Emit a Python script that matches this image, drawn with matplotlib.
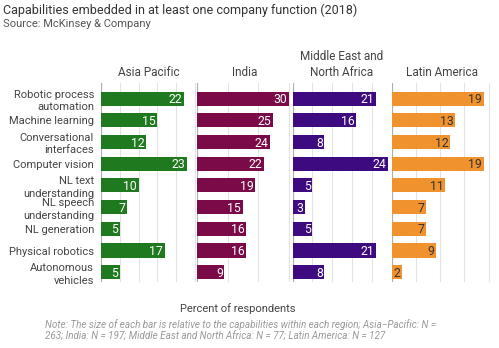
import matplotlib.pyplot as plt
import numpy as np

plt.rcParams["font.family"] = ["Roboto", "DejaVu Sans"]

CAPABILITIES = [
    "Robotic process\nautomation",
    "Machine learning",
    "Conversational\ninterfaces",
    "Computer vision",
    "NL text\nunderstanding",
    "NL speech\nunderstanding",
    "NL generation",
    "Physical robotics",
    "Autonomous\nvehicles",
]
REGIONS = ["Asia Pacific", "India", "Middle East and\nNorth Africa", "Latin America"]
ASIA_PACIFIC = [22, 15, 12, 23, 10, 7, 5, 17, 5]
INDIA = [30, 25, 24, 22, 19, 15, 16, 16, 9]
MIDDLE_EAST = [21, 16, 8, 24, 5, 3, 5, 21, 8]
LATIN_AMERICA = [19, 13, 12, 19, 11, 7, 7, 9, 2]

COLORS = ["#1f7a1f", "#7a0a48", "#3e0a80", "#f0922e"]
LABEL_COLORS = ["white", "white", "white", "#333333"]
# pixel layout of each panel: left edge, px per unit, right edge, grid step
PANELS = [(101, 3.75, 197, 5), (197, 3.05, 292, 10), (292.7, 3.95, 391, 5), (392.3, 4.81, 491, 5)]

W, H = 499, 348
fig = plt.figure(figsize=(W / 100, H / 100), dpi=100)
top, bottom = 83, 282

series = [ASIA_PACIFIC, INDIA, MIDDLE_EAST, LATIN_AMERICA]
y = np.arange(len(CAPABILITIES))
for i, (values, (left, scale, right, step)) in enumerate(zip(series, PANELS)):
    ax = fig.add_axes([left / W, 1 - bottom / H, (right - left) / W, (bottom - top) / H])
    xmax = (right - left) / scale
    ax.barh(y, values, height=0.65, color=COLORS[i], zorder=3)
    for yi, v in zip(y, values):
        ax.text(v - 0.4 * 3.75 / scale, yi + 0.05, str(v), ha="right", va="center",
                color=LABEL_COLORS[i], fontsize=8.8, zorder=4)
    ax.set_xlim(0, xmax)
    ax.set_ylim(8.45, -0.72)
    ticks = np.arange(0, xmax + 0.01, step)
    for t in ticks[1:]:
        ax.axvline(t, color="#e3e3e3", lw=0.8, zorder=1)
    ax.axvline(0, color="#b0b0b0", lw=0.9, zorder=2)
    ax.set_xticks([])
    ax.set_yticks([])
    for s in ax.spines.values():
        s.set_visible(False)
    ax.set_title(REGIONS[i], fontsize=8.5, color="#444444", pad=5, linespacing=1.3)
    if i == 0:
        ax.set_yticks(y)
        ax.set_yticklabels(CAPABILITIES, fontsize=8, color="#444444", linespacing=1.3)
        ax.tick_params(axis="y", length=0, pad=5)

fig.text(3 / W, 1 - 10 / H, "Capabilities embedded in at least one company function (2018)",
         fontsize=9, color="#333333", va="center", ha="left")
fig.text(3 / W, 1 - 24 / H, "Source: McKinsey & Company",
         fontsize=8, color="#555555", va="center", ha="left")
fig.text(238 / W, 1 - 309 / H, "Percent of respondents",
         fontsize=8, color="#444444", va="center", ha="center")
fig.text(45 / W, 1 - 330.5 / H,
         "Note: The size of each bar is relative to the capabilities within each region; Asia\u2212Pacific: N =\n"
         "263; India: N = 197; Middle East and North Africa: N = 77; Latin America: N = 127",
         fontsize=7.1, color="#999999", style="italic", va="center", ha="left", linespacing=1.3)

fig.savefig("out.png", dpi=100, facecolor="white")
